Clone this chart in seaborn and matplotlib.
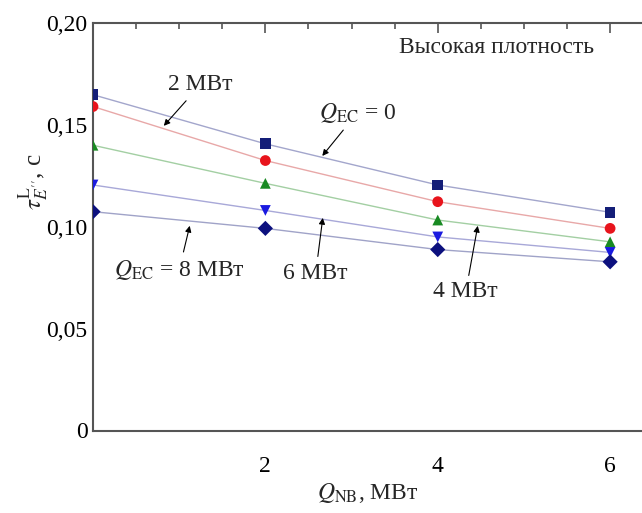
import numpy as np
import pandas as pd
import seaborn as sns
import matplotlib.pyplot as plt
from matplotlib.ticker import MultipleLocator, FixedLocator, FixedFormatter

# data
q_nb = [0, 2, 4, 6]
q_ec_0 = [0.1648, 0.1407, 0.1205, 0.1071]
q_ec_2 = [0.1590, 0.1325, 0.1123, 0.0992]
q_ec_4 = [0.1400, 0.1213, 0.1033, 0.0926]
q_ec_6 = [0.1205, 0.1080, 0.0950, 0.0874]
q_ec_8 = [0.1074, 0.0992, 0.0888, 0.0828]
series_names = ["0", "2", "4", "6", "8"]

yticks = [0, 0.05, 0.10, 0.15, 0.20]
ytick_labels = ["0", "0,05", "0,10", "0,15", "0,20"]
xticks = [2, 4, 6]
xtick_labels = ["2", "4", "6"]

rows = []
for name, vals in zip(series_names, [q_ec_0, q_ec_2, q_ec_4, q_ec_6, q_ec_8]):
    for x, y in zip(q_nb, vals):
        rows.append({"Q_NB": x, "tau": y, "Q_EC": name})
data = pd.DataFrame(rows)

line_colors = {"0": "#a3a6cc", "2": "#e8a8a8", "4": "#a3cfa3", "6": "#a8a8d8", "8": "#a0a3c8"}
marker_colors = {"0": "#141e78", "2": "#e8141c", "4": "#188a22", "6": "#1a1ae0", "8": "#0c107e"}
markers = {"0": "s", "2": "o", "4": "^", "6": "v", "8": "D"}

sns.set_style("white")
plt.rcParams["font.family"] = ["Liberation Serif", "DejaVu Serif"]
plt.rcParams["mathtext.fontset"] = "stix"

fig = plt.figure(figsize=(6.42, 5.13), dpi=100)
ax = fig.add_axes([93 / 642, 1 - 430.5 / 513, 1 - 93 / 642, 407.5 / 513])

sns.lineplot(data=data, x="Q_NB", y="tau", hue="Q_EC", palette=line_colors,
             linewidth=1.0, legend=False, ax=ax)
sns.scatterplot(data=data, x="Q_NB", y="tau", hue="Q_EC", style="Q_EC",
                palette=marker_colors, markers=markers, s=60, linewidth=0,
                legend=False, ax=ax, zorder=3)

ax.set_xlim(0, 6.37)
ax.set_ylim(0, 0.20)

ax.xaxis.set_major_locator(FixedLocator(xticks))
ax.xaxis.set_major_formatter(FixedFormatter(xtick_labels))
ax.xaxis.set_minor_locator(MultipleLocator(0.5))
ax.yaxis.set_major_locator(FixedLocator(yticks))
ax.yaxis.set_major_formatter(FixedFormatter(ytick_labels))
ax.yaxis.set_minor_locator(MultipleLocator(0.01))

ax.tick_params(which="both", direction="in", top=True, right=False,
               color="#555555", width=1.2, labelsize=17, labelcolor="black")
ax.tick_params(which="major", length=7)
ax.tick_params(which="minor", length=4)
ax.tick_params(axis="x", pad=18)
ax.tick_params(axis="y", pad=4)

for side in ["left", "bottom", "top"]:
    ax.spines[side].set_color("#555555")
    ax.spines[side].set_linewidth(1.5)
ax.spines["right"].set_visible(False)

ax.set_xlabel(r"$Q_{\mathrm{NB}}$, МВт", fontsize=17, labelpad=3)
ax.set_ylabel(r"$\tau^{\mathrm{L}}_{E^{\prime\prime}}$, с", fontsize=18)
ax.yaxis.set_label_coords(-0.078, 0.61)

fs = 17
ax.text(3.55, 0.188, "Высокая плотность", fontsize=fs, va="center")
arrow = dict(arrowstyle="-|>", color="black", lw=0.8, mutation_scale=9)

ax.annotate("2 МВт", xy=(0.80, 0.1485), xytext=(0.87, 0.1696),
            fontsize=fs, va="center", arrowprops=arrow)
ax.annotate(r"$Q_{\mathrm{EC}}$ = 0", xy=(2.64, 0.1337), xytext=(2.62, 0.156),
            fontsize=fs, va="center", arrowprops=arrow)
ax.annotate(r"$Q_{\mathrm{EC}}$ = 8 МВт", xy=(1.13, 0.1018), xytext=(0.24, 0.0788),
            fontsize=fs, va="center", arrowprops=arrow)
ax.annotate("6 МВт", xy=(2.67, 0.1057), xytext=(2.21, 0.0773),
            fontsize=fs, va="center", arrowprops=arrow)
ax.annotate("4 МВт", xy=(4.47, 0.1018), xytext=(3.95, 0.068),
            fontsize=fs, va="center", arrowprops=arrow)

fig.savefig("out.png", dpi=100)
